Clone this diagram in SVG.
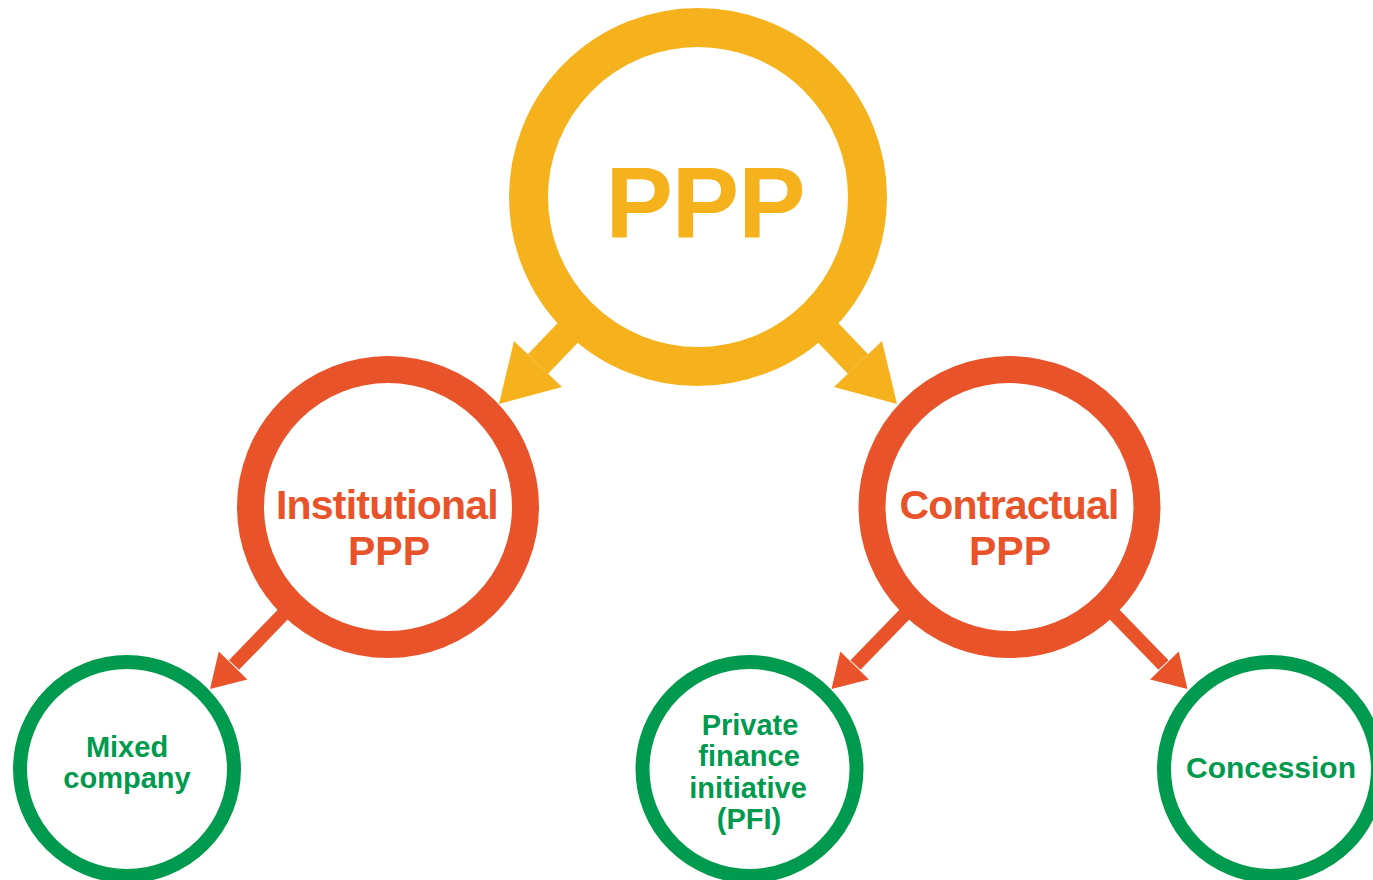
<svg xmlns="http://www.w3.org/2000/svg" width="1373" height="880" viewBox="0 0 1373 880">
  <style>
    .lbl { font-family: "Liberation Sans", Arial, sans-serif; font-weight: bold; text-anchor: middle; }
    .ring { fill: #FFFFFF; }
    .y { stroke: #F6B21C; }
    .o { stroke: #E8532A; }
    .g { stroke: #009A4E; }
    .yf { fill: #F6B21C; }
    .of { fill: #E8532A; }
    .gf { fill: #009A4E; }
    .shaft { fill: none; stroke-linecap: butt; }
  </style>
  <rect x="0" y="0" width="1373" height="880" fill="#FFFFFF"/>

  <g id="connectors">
    <!-- PPP -> Institutional -->
    <line class="shaft y" x1="581" y1="319" x2="538" y2="364" stroke-width="28"/>
    <polygon class="yf" points="499,404 514,341 562,387"/>
    <!-- PPP -> Contractual -->
    <line class="shaft y" x1="815" y1="319" x2="858" y2="364" stroke-width="28"/>
    <polygon class="yf" points="897,404 882,341 834,387"/>
    <!-- Institutional -> Mixed company -->
    <line class="shaft o" x1="292" y1="605" x2="234" y2="665" stroke-width="14"/>
    <polygon class="of" points="210,689 218.8,651.4 247.4,679.4"/>
    <!-- Contractual -> PFI -->
    <line class="shaft o" x1="913.7" y1="605" x2="855.5" y2="665" stroke-width="14"/>
    <polygon class="of" points="831.5,689 840.3,651.4 868.9,679.4"/>
    <!-- Contractual -> Concession -->
    <line class="shaft o" x1="1105.3" y1="605" x2="1163.5" y2="665" stroke-width="14"/>
    <polygon class="of" points="1187.5,689 1178.7,651.4 1150.1,679.4"/>
  </g>

  <g id="node-ppp">
    <circle class="ring y" cx="698" cy="197" r="169.5" stroke-width="39"/>
    <text class="lbl yf" x="705" y="237" font-size="101" letter-spacing="-1">PPP</text>
  </g>

  <g id="node-institutional">
    <circle class="ring o" cx="388" cy="507" r="137.5" stroke-width="27"/>
    <text class="lbl of" x="387" y="519" font-size="41" letter-spacing="-0.8">Institutional</text>
    <text class="lbl of" x="389" y="565" font-size="41">PPP</text>
  </g>

  <g id="node-contractual">
    <circle class="ring o" cx="1009.5" cy="507" r="137.5" stroke-width="27"/>
    <text class="lbl of" x="1009" y="519" font-size="41" letter-spacing="-0.8">Contractual</text>
    <text class="lbl of" x="1010" y="565" font-size="41">PPP</text>
  </g>

  <g id="node-mixed">
    <circle class="ring g" cx="127" cy="769" r="107" stroke-width="14"/>
    <text class="lbl gf" x="127" y="757" font-size="29">Mixed</text>
    <text class="lbl gf" x="127" y="788" font-size="29">company</text>
  </g>

  <g id="node-pfi">
    <circle class="ring g" cx="749.5" cy="769" r="107" stroke-width="14"/>
    <text class="lbl gf" x="750" y="735" font-size="29">Private</text>
    <text class="lbl gf" x="749" y="766" font-size="29">finance</text>
    <text class="lbl gf" x="748" y="798" font-size="29">initiative</text>
    <text class="lbl gf" x="749" y="829" font-size="29">(PFI)</text>
  </g>

  <g id="node-concession">
    <circle class="ring g" cx="1271" cy="769" r="107" stroke-width="14"/>
    <text class="lbl gf" x="1271" y="778" font-size="30">Concession</text>
  </g>
</svg>
